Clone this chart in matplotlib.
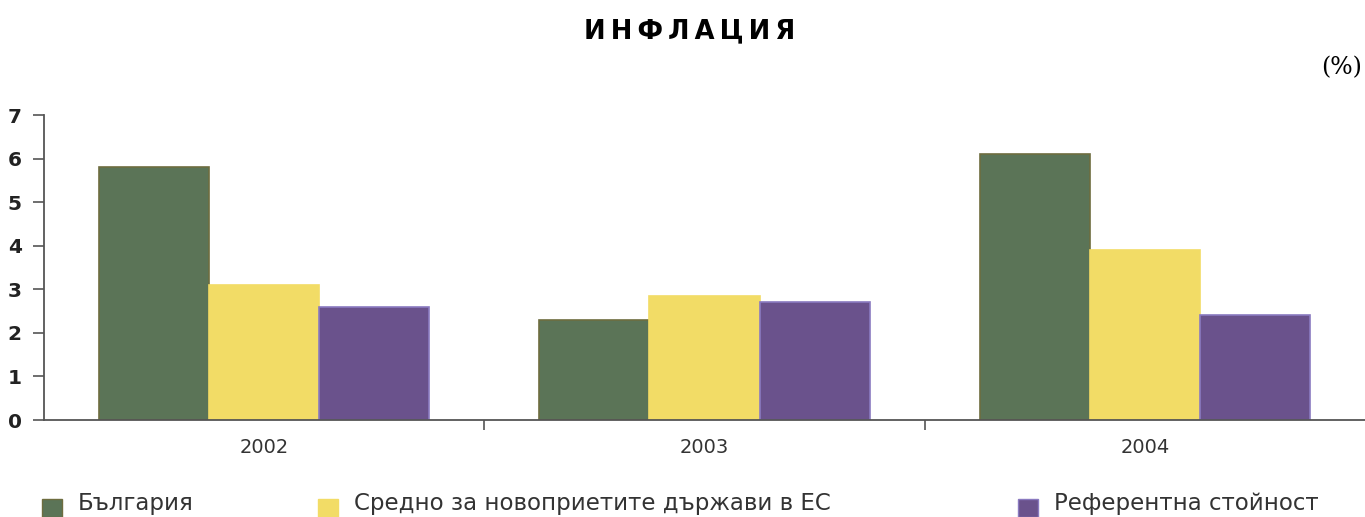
import matplotlib.pyplot as plt
import matplotlib.patches as mpatches
import numpy as np

years = ["2002", "2003", "2004"]
series = ["България", "Средно за новоприетите държави в ЕС", "Референтна стойност"]
bulgaria = [5.8, 2.3, 6.1]
eu_new = [3.1, 2.85, 3.9]
reference = [2.6, 2.7, 2.4]

colors = ["#5b7457", "#f2dc66", "#6a528c"]
edges = ["#6e6d3f", "#f2dc66", "#8a7ac0"]

fig = plt.figure(figsize=(13.65, 5.17), dpi=100)
ax = fig.add_axes([44 / 1365, 97 / 517, 1 - 44 / 1365, 305 / 517])

x = np.arange(len(years))
w = 0.25
for i, (vals, c, e) in enumerate(zip([bulgaria, eu_new, reference], colors, edges)):
    ax.bar(x + (i - 1) * w, vals, width=w, color=c, edgecolor=e, linewidth=1.2)

ax.set_xlim(-0.5, len(years) - 0.5)
ax.set_ylim(0, 7)
ax.set_yticks(range(0, 8))
ax.set_xticks(x)
ax.set_xticklabels(years, fontsize=14, color="#333333", family="DejaVu Sans")
ax.set_xticks(np.arange(0.5, len(years) - 0.5), minor=True)
ax.tick_params(axis="x", which="major", length=0, pad=13)
ax.tick_params(axis="x", which="minor", length=7, width=1.2, color="#555555", direction="out")
ax.tick_params(axis="y", length=8, width=1.2, color="#555555", pad=8)
for lbl in ax.get_yticklabels():
    lbl.set_fontweight("bold")
    lbl.set_fontsize(14.5)
    lbl.set_family("DejaVu Sans")
    lbl.set_color("#222222")

for s in ["top", "right"]:
    ax.spines[s].set_visible(False)
for s in ["left", "bottom"]:
    ax.spines[s].set_color("#555555")
    ax.spines[s].set_linewidth(1.3)

title = "\u2009".join("ИНФЛАЦИЯ")
fig.text(0.505, 0.94, title, ha="center", va="center", fontsize=18.5,
         fontweight="bold", family="DejaVu Sans")
fig.text(0.998, 0.87, "(%)", ha="right", va="center", fontsize=17, family="DejaVu Serif")

# legend row along the bottom edge
swatch_x = [42, 318, 1018]
for sx, name, c, e in zip(swatch_x, series, colors, edges):
    fig.patches.append(mpatches.Rectangle((sx / 1365, 0 / 517), 20 / 1365, 18 / 517,
                                          transform=fig.transFigure, facecolor=c,
                                          edgecolor=e, linewidth=1))
    fig.text((sx + 36) / 1365, 2 / 517, name, ha="left", va="bottom", fontsize=16.5,
             color="#333333", family="DejaVu Sans")

fig.savefig("out.png", dpi=100)
